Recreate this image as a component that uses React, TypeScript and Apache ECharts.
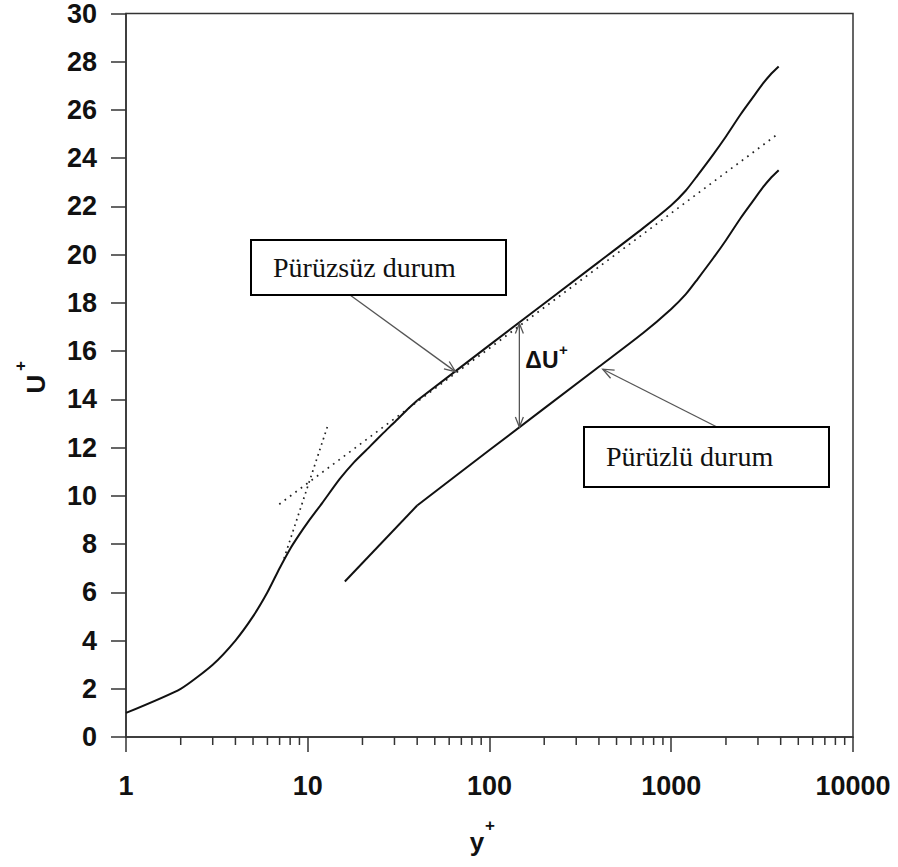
import React, { useEffect, useRef } from "react";
import * as echarts from "echarts";

// Pürüzsüz (smooth wall) profile
const smoothYPlus = [1, 2, 3, 4, 5, 6, 7, 8, 9, 10, 12, 15, 18, 22, 26, 30, 35, 40, 100, 400, 700, 1000, 1200, 1400, 1700, 2000, 2400, 2800, 3200, 3500, 3900];
const smoothU = [1, 2, 3, 4, 5, 6, 7.0, 7.8, 8.4, 8.9, 9.7, 10.7, 11.4, 12.05, 12.6, 13.05, 13.55, 13.95, 16.25, 19.7, 21.1, 22.05, 22.65, 23.3, 24.15, 24.9, 25.8, 26.5, 27.1, 27.45, 27.8];

// Pürüzlü (rough wall) profile
const roughYPlus = [16, 40, 100, 400, 700, 1000, 1200, 1400, 1700, 2000, 2400, 2800, 3200, 3500, 3900];
const roughU = [6.45, 9.6, 11.9, 15.35, 16.75, 17.75, 18.35, 19.0, 19.85, 20.6, 21.5, 22.2, 22.8, 23.15, 23.5];

// y+ where the profiles change from buffer layer to log region
const kinkYPlus = 40;

// dotted reference lines
const logLawYPlus = [6.97, 3850];
const logLawU = [9.65, 25.0];
const sublayerYPlus = [7.4, 13];
const sublayerU = [7.4, 13];

// log-axis minor tick values
const xMinorTicks = [2, 3, 4, 5, 6, 7, 8, 9, 20, 30, 40, 50, 60, 70, 80, 90, 200, 300, 400, 500, 600, 700, 800, 900, 2000, 3000, 4000, 5000, 6000, 7000, 8000, 9000];

// annotations
const smoothLabel = "Pürüzsüz durum";
const roughLabel = "Pürüzlü durum";
const smoothArrowTip = [65, 15.15];
const roughArrowTip = [420, 15.25];
const deltaUYPlus = 146;
const deltaUTop = 17.15;
const deltaUBottom = 12.85;

const zip = (xs: number[], ys: number[]) => xs.map((x, i) => [x, ys[i]]);
const upTo = (pts: number[][], k: number) => pts.filter((p) => p[0] <= k);
const from = (pts: number[][], k: number) => pts.filter((p) => p[0] >= k);

const SANS = "'Liberation Sans', Arial, sans-serif";
const SERIF = "'Liberation Serif', 'Times New Roman', serif";

function arrowHead(tip: number[], src: number[], len = 11, half = 4.5) {
  const dx = tip[0] - src[0];
  const dy = tip[1] - src[1];
  const d = Math.hypot(dx, dy) || 1;
  const ux = dx / d, uy = dy / d;
  const nx = -uy, ny = ux;
  const bx = tip[0] - ux * len, by = tip[1] - uy * len;
  return [
    [bx + nx * half, by + ny * half],
    [tip[0], tip[1]],
    [bx - nx * half, by - ny * half],
  ];
}

export default function App() {
  const ref = useRef<HTMLDivElement>(null);
  useEffect(() => {
    if (!ref.current) return;
    const chart = echarts.init(ref.current, undefined, { renderer: "svg" });
    const axisColor = "#333";
    const smoothPts = zip(smoothYPlus, smoothU);
    const roughPts = zip(roughYPlus, roughU);
    const solid = { color: "#111", width: 2 };
    const curve = (data: number[][], sm: number | boolean) => ({
      type: "line",
      data,
      symbol: "none",
      showSymbol: false,
      smooth: sm,
      lineStyle: solid,
      z: 3,
    });
    chart.setOption({
      animation: false,
      backgroundColor: "#fff",
      grid: {
        left: 126,
        right: 45,
        top: 13,
        bottom: 130,
        show: true,
        borderColor: axisColor,
        borderWidth: 1.5,
        backgroundColor: "transparent",
      },
      xAxis: {
        type: "log",
        logBase: 10,
        min: 1,
        max: 10000,
        axisLine: { show: true, lineStyle: { color: axisColor, width: 1.5 } },
        axisTick: { show: true, length: 15, lineStyle: { color: axisColor, width: 1.5 } },
        minorTick: { show: false },
        splitLine: { show: false },
        axisLabel: {
          margin: 35,
          fontSize: 27,
          fontWeight: "bold",
          fontFamily: SANS,
          color: "#111",
          formatter: (v: number) => String(Math.round(v)),
        },
      },
      yAxis: {
        type: "value",
        min: 0,
        max: 30,
        interval: 2,
        axisLine: { show: true, lineStyle: { color: axisColor, width: 1.5 } },
        axisTick: { show: true, length: 15, lineStyle: { color: axisColor, width: 1.5 } },
        splitLine: { show: false },
        axisLabel: {
          margin: 29,
          fontSize: 27,
          fontWeight: "bold",
          fontFamily: SANS,
          color: "#111",
        },
      },
      series: [
        curve(upTo(smoothPts, kinkYPlus), 0.2),
        curve(from(smoothPts, kinkYPlus), 0.25),
        curve(upTo(roughPts, kinkYPlus), false),
        curve(from(roughPts, kinkYPlus), 0.25),
        {
          type: "line",
          data: zip(logLawYPlus, logLawU),
          symbol: "none",
          lineStyle: { color: "#222", width: 1.7, type: [1.7, 5] },
          z: 2,
        },
        {
          type: "line",
          data: zip(sublayerYPlus, sublayerU),
          symbol: "none",
          lineStyle: { color: "#222", width: 1.7, type: [1.7, 4] },
          z: 2,
        },
        {
          type: "custom",
          silent: true,
          clip: false,
          data: xMinorTicks.map((v) => [v, 0]),
          renderItem: (params: any, api: any) => {
            const p = api.coord([api.value(0), 0]);
            return {
              type: "line",
              shape: { x1: p[0], y1: p[1], x2: p[0], y2: p[1] + 8 },
              style: { stroke: axisColor, lineWidth: 1.5 },
            };
          },
          z: 5,
        },
      ],
    });

    const px = (pt: number[]) => chart.convertToPixel({ gridIndex: 0 }, pt) as number[];
    const sTip = px(smoothArrowTip);
    const rTip = px(roughArrowTip);
    const dTop = px([deltaUYPlus, deltaUTop]);
    const dBot = px([deltaUYPlus, deltaUBottom]);

    const sFrom = [350, 295];
    const rFrom = [717, 427];
    const arrowStyle = { stroke: "#555", lineWidth: 1.3, fill: "none" };

    chart.setOption({
      graphic: [
        {
          type: "rect",
          shape: { x: 251, y: 240, width: 255, height: 55 },
          style: { fill: "#fff", stroke: "#000", lineWidth: 2 },
          z: 10,
        },
        {
          type: "text",
          x: 273,
          y: 267,
          style: { text: smoothLabel, font: `28px ${SERIF}`, fill: "#111", verticalAlign: "middle", align: "left" },
          z: 11,
        },
        {
          type: "rect",
          shape: { x: 584, y: 427, width: 245, height: 60 },
          style: { fill: "#fff", stroke: "#000", lineWidth: 2 },
          z: 10,
        },
        {
          type: "text",
          x: 606,
          y: 456,
          style: { text: roughLabel, font: `28px ${SERIF}`, fill: "#111", verticalAlign: "middle", align: "left" },
          z: 11,
        },
        { type: "line", shape: { x1: sFrom[0], y1: sFrom[1], x2: sTip[0], y2: sTip[1] }, style: arrowStyle, z: 9 },
        { type: "polyline", shape: { points: arrowHead(sTip, sFrom) }, style: arrowStyle, z: 9 },
        { type: "line", shape: { x1: rFrom[0], y1: rFrom[1], x2: rTip[0], y2: rTip[1] }, style: arrowStyle, z: 9 },
        { type: "polyline", shape: { points: arrowHead(rTip, rFrom) }, style: arrowStyle, z: 9 },
        { type: "line", shape: { x1: dTop[0], y1: dTop[1], x2: dBot[0], y2: dBot[1] }, style: arrowStyle, z: 9 },
        { type: "polyline", shape: { points: arrowHead(dTop, dBot, 10, 4) }, style: arrowStyle, z: 9 },
        { type: "polyline", shape: { points: arrowHead(dBot, dTop, 10, 4) }, style: arrowStyle, z: 9 },
        {
          type: "text",
          x: dTop[0] + 6,
          y: 360,
          style: { text: "ΔU", font: `bold 23px ${SANS}`, fill: "#111", verticalAlign: "middle", align: "left" },
          z: 11,
        },
        {
          type: "text",
          x: dTop[0] + 44,
          y: 349,
          style: { text: "+", font: `bold 15px ${SANS}`, fill: "#111", verticalAlign: "middle", align: "center" },
          z: 11,
        },
        {
          type: "text",
          x: 36,
          y: 384,
          rotation: Math.PI / 2,
          style: { text: "U", font: `bold 26px ${SANS}`, fill: "#111", verticalAlign: "middle", align: "center" },
          z: 11,
        },
        {
          type: "text",
          x: 20,
          y: 366,
          rotation: Math.PI / 2,
          style: { text: "+", font: `bold 17px ${SANS}`, fill: "#111", verticalAlign: "middle", align: "center" },
          z: 11,
        },
        {
          type: "text",
          x: 477,
          y: 842,
          style: { text: "y", font: `bold 26px ${SANS}`, fill: "#111", verticalAlign: "middle", align: "center" },
          z: 11,
        },
        {
          type: "text",
          x: 490,
          y: 825,
          style: { text: "+", font: `bold 17px ${SANS}`, fill: "#111", verticalAlign: "middle", align: "center" },
          z: 11,
        },
      ],
    });

    return () => chart.dispose();
  }, []);

  return <div ref={ref} style={{ position: "absolute", left: 0, top: 0, width: 898, height: 867 }} />;
}
